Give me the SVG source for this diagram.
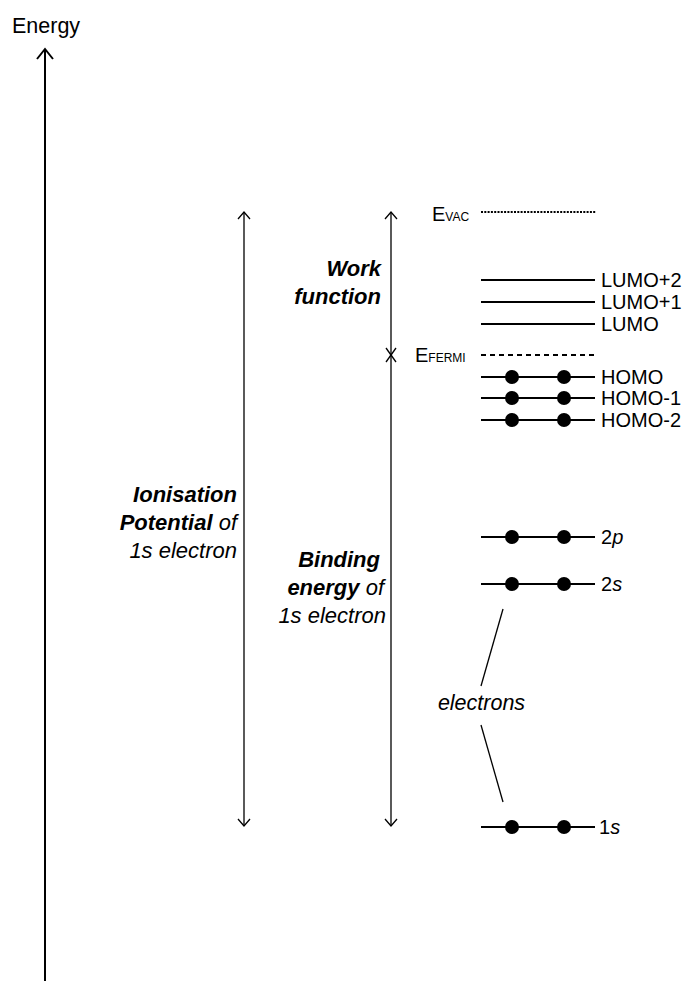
<svg xmlns="http://www.w3.org/2000/svg" width="692" height="981" viewBox="0 0 692 981">
<style>
text{font-family:"Liberation Sans",Arial,sans-serif;fill:#000}
.lbl{font-size:20px}
.big{font-size:22px}
.it{font-style:italic}
.b{font-weight:bold;font-style:italic}
.ln{stroke:#000;stroke-width:2;fill:none}
.thin{stroke:#000;stroke-width:1.3;fill:none}
.head{stroke:#000;stroke-width:1.3;fill:none}
</style>
<rect width="692" height="981" fill="#fff"/>
<g id="axis">
<text x="12" y="33" font-size="21.5">Energy</text>
<line x1="45" y1="49" x2="45" y2="981" class="ln"/>
<polyline points="37,59 45,49 53,59" class="ln"/>
</g>
<g id="connectors">
<line x1="244" y1="212" x2="244" y2="826" class="thin"/>
<polyline points="238,219 244,212 250,219" class="head"/>
<polyline points="238,819 244,826 250,819" class="head"/>
<line x1="391" y1="212" x2="391" y2="826" class="thin"/>
<polyline points="385,219 391,212 397,219" class="head"/>
<polyline points="385,819 391,826 397,819" class="head"/>
<line x1="386" y1="348" x2="396" y2="362" class="head"/>
<line x1="396" y1="348" x2="386" y2="362" class="head"/>
<line x1="503" y1="609" x2="481" y2="686" class="thin"/>
<line x1="481" y1="725" x2="503" y2="802" class="thin"/>
</g>
<g id="ionisation">
<text text-anchor="end" class="big"><tspan x="237" y="502" class="b">Ionisation</tspan><tspan x="237" y="530"><tspan class="b">Potential</tspan><tspan class="it"> of</tspan></tspan><tspan x="237" y="558" class="it">1s electron</tspan></text>
</g>
<g id="workfunction">
<text text-anchor="end" class="big"><tspan x="381" y="276" class="b">Work</tspan><tspan x="381" y="304" class="b">function</tspan></text>
</g>
<g id="binding">
<text text-anchor="end" class="big"><tspan x="380" y="567" class="b">Binding</tspan><tspan x="384" y="595"><tspan class="b">energy</tspan><tspan class="it"> of</tspan></tspan><tspan x="386" y="623" class="it">1s electron</tspan></text>
</g>
<g id="evac">
<text x="432" y="221"><tspan font-size="20">E</tspan><tspan font-size="12">VAC</tspan></text>
<line x1="481" y1="212" x2="596" y2="212" stroke="#000" stroke-width="2" stroke-dasharray="2,1.3"/>
</g>
<g id="lumo2"><line x1="481" y1="280" x2="595" y2="280" class="ln"/><text x="601" y="287" class="lbl">LUMO+2</text></g>
<g id="lumo1"><line x1="481" y1="302" x2="595" y2="302" class="ln"/><text x="601" y="309" class="lbl">LUMO+1</text></g>
<g id="lumo"><line x1="481" y1="324" x2="595" y2="324" class="ln"/><text x="601" y="331" class="lbl">LUMO</text></g>
<g id="efermi">
<text x="415" y="362"><tspan font-size="20">E</tspan><tspan font-size="12">FERMI</tspan></text>
<line x1="481" y1="355" x2="595" y2="355" stroke="#000" stroke-width="2" stroke-dasharray="5,4"/>
</g>
<g id="homo"><line x1="481" y1="377" x2="595" y2="377" class="ln"/><circle cx="512" cy="377" r="7"/><circle cx="564" cy="377" r="7"/><text x="601" y="384" class="lbl">HOMO</text></g>
<g id="homo1"><line x1="481" y1="398" x2="595" y2="398" class="ln"/><circle cx="512" cy="398" r="7"/><circle cx="564" cy="398" r="7"/><text x="601" y="405" class="lbl">HOMO-1</text></g>
<g id="homo2"><line x1="481" y1="420" x2="595" y2="420" class="ln"/><circle cx="512" cy="420" r="7"/><circle cx="564" cy="420" r="7"/><text x="601" y="427" class="lbl">HOMO-2</text></g>
<g id="l2p"><line x1="481" y1="537" x2="595" y2="537" class="ln"/><circle cx="512" cy="537" r="7"/><circle cx="564" cy="537" r="7"/><text x="601" y="544" class="lbl">2<tspan class="it">p</tspan></text></g>
<g id="l2s"><line x1="481" y1="584" x2="595" y2="584" class="ln"/><circle cx="512" cy="584" r="7"/><circle cx="564" cy="584" r="7"/><text x="601" y="591" class="lbl">2<tspan class="it">s</tspan></text></g>
<g id="l1s"><line x1="481" y1="827" x2="595" y2="827" class="ln"/><circle cx="512" cy="827" r="7"/><circle cx="564" cy="827" r="7"/><text x="599" y="834" class="lbl">1<tspan class="it">s</tspan></text></g>
<g id="electrons"><text x="481.5" y="710" text-anchor="middle" font-size="21.5" class="it">electrons</text></g>
</svg>
